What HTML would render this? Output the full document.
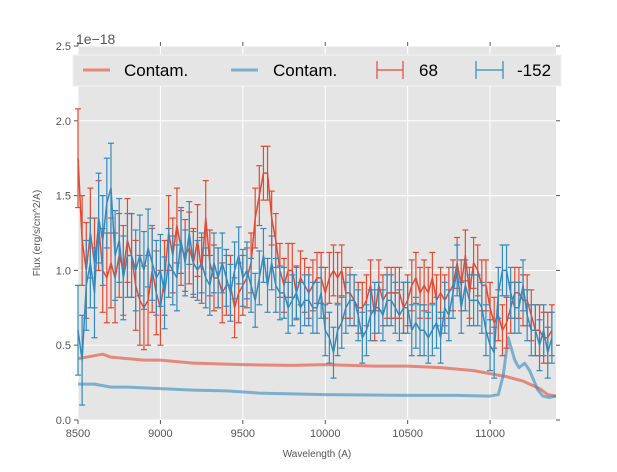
<!DOCTYPE html>
<html><head><meta charset="utf-8"><style>
body{margin:0;background:#fff;width:617px;height:467px;overflow:hidden;font-family:"Liberation Sans","DejaVu Sans",sans-serif}
</style></head><body>
<svg id="chart" width="617" height="467" xmlns="http://www.w3.org/2000/svg" font-family="Liberation Sans, DejaVu Sans, sans-serif"></svg>
<script>
const waves=[8500,8525,8550,8575,8600,8625,8650,8675,8700,8725,8750,8775,8800,8825,8850,8875,8900,8925,8950,8975,9000,9025,9050,9075,9100,9125,9150,9175,9200,9225,9250,9275,9300,9325,9350,9375,9400,9425,9450,9475,9500,9525,9550,9575,9600,9625,9650,9675,9700,9725,9750,9775,9800,9825,9850,9875,9900,9925,9950,9975,10000,10025,10050,10075,10100,10125,10150,10175,10200,10225,10250,10275,10300,10325,10350,10375,10400,10425,10450,10475,10500,10525,10550,10575,10600,10625,10650,10675,10700,10725,10750,10775,10800,10825,10850,10875,10900,10925,10950,10975,11000,11025,11050,11075,11100,11125,11150,11175,11200,11225,11250,11275,11300,11325,11350,11375];
const flux68=[1.75,1.2,1.0,1.25,1.05,1.3,1.0,0.95,1.05,0.95,1.1,1.0,1.2,1.1,0.9,0.8,0.75,0.8,1.0,0.85,0.75,0.95,1.25,1.1,1.3,1.15,1.1,1.15,1.05,1.2,1.0,1.35,1.05,0.95,0.95,0.85,0.9,0.9,0.75,0.85,0.9,0.95,1.05,1.35,1.5,1.65,1.65,1.35,1.2,1.0,0.9,1.0,1.0,0.85,0.95,0.9,0.85,0.9,0.95,0.95,0.85,0.95,1.0,0.95,1.0,0.85,0.85,0.8,0.75,0.75,0.8,0.9,0.7,0.9,0.8,0.85,0.85,0.85,0.85,0.75,0.8,0.9,0.95,0.85,0.9,0.85,0.95,0.8,0.85,0.8,0.85,0.9,1.05,0.9,1.1,0.85,1.05,1.0,0.9,0.9,0.75,0.65,0.7,0.6,0.65,0.75,0.85,0.85,0.8,0.8,0.7,0.6,0.6,0.55,0.55,0.6];
const err68=[0.33,0.3,0.32,0.3,0.3,0.3,0.28,0.3,0.3,0.3,0.28,0.3,0.28,0.28,0.3,0.3,0.28,0.3,0.28,0.28,0.25,0.25,0.25,0.25,0.25,0.25,0.24,0.24,0.23,0.24,0.22,0.25,0.22,0.22,0.2,0.2,0.2,0.2,0.2,0.2,0.2,0.2,0.2,0.2,0.2,0.18,0.18,0.18,0.18,0.18,0.18,0.18,0.18,0.18,0.18,0.18,0.17,0.17,0.17,0.17,0.17,0.17,0.17,0.17,0.17,0.17,0.17,0.17,0.17,0.17,0.17,0.17,0.17,0.17,0.17,0.17,0.17,0.17,0.17,0.17,0.17,0.17,0.17,0.17,0.17,0.17,0.17,0.17,0.17,0.17,0.17,0.17,0.17,0.17,0.17,0.17,0.17,0.17,0.17,0.17,0.17,0.17,0.17,0.17,0.17,0.17,0.17,0.17,0.17,0.17,0.17,0.17,0.17,0.17,0.17,0.17];
const flux152=[0.6,0.4,0.9,1.05,0.85,1.35,1.2,1.45,1.55,1.1,1.2,0.95,1.1,1.1,1.0,1.1,1.0,1.15,1.05,0.95,1.0,0.85,1.05,1.0,0.95,1.2,1.05,1.25,1.05,1.0,1.05,0.95,0.9,1.05,0.95,1.05,0.95,0.85,1.0,1.1,0.95,1.0,0.9,0.8,0.95,1.1,0.9,1.05,0.9,0.85,0.85,0.75,0.8,0.85,0.75,0.8,0.8,0.75,0.75,0.85,0.6,0.55,0.45,0.6,0.65,0.75,0.8,0.8,0.7,0.55,0.6,0.7,0.75,0.75,0.7,0.8,0.8,0.75,0.7,0.75,0.75,0.6,0.65,0.6,0.6,0.55,0.6,0.65,0.55,0.75,0.7,0.85,1.0,0.75,0.9,0.8,0.8,0.8,0.75,0.6,0.5,0.45,0.85,1.0,1.0,0.85,0.75,0.75,0.9,0.7,0.6,0.6,0.5,0.6,0.45,0.55];
const err152=[0.3,0.3,0.3,0.3,0.3,0.3,0.3,0.3,0.3,0.3,0.28,0.28,0.28,0.28,0.27,0.27,0.26,0.26,0.25,0.25,0.24,0.24,0.23,0.23,0.22,0.22,0.22,0.21,0.21,0.2,0.2,0.2,0.2,0.2,0.2,0.2,0.19,0.19,0.19,0.19,0.19,0.19,0.18,0.18,0.18,0.18,0.18,0.18,0.18,0.18,0.17,0.17,0.17,0.17,0.17,0.17,0.17,0.17,0.17,0.17,0.17,0.17,0.17,0.17,0.17,0.17,0.17,0.17,0.17,0.17,0.17,0.17,0.17,0.17,0.17,0.17,0.17,0.17,0.17,0.17,0.17,0.17,0.17,0.17,0.17,0.17,0.17,0.17,0.17,0.17,0.17,0.17,0.17,0.17,0.17,0.17,0.17,0.17,0.17,0.17,0.17,0.17,0.17,0.17,0.17,0.17,0.17,0.17,0.17,0.17,0.17,0.17,0.17,0.17,0.17,0.17];
const contamRedW=[8500,8600,8650,8700,8800,8900,9000,9100,9200,9500,9800,10000,10300,10500,10700,10900,11000,11100,11200,11300,11350,11400];
const contamRedV=[0.41,0.43,0.44,0.42,0.41,0.40,0.40,0.39,0.38,0.37,0.365,0.37,0.36,0.36,0.35,0.33,0.31,0.29,0.26,0.21,0.17,0.16];
const contamBlueW=[8500,8600,8700,8800,9000,9200,9400,9600,10000,10500,10800,11000,11050,11080,11110,11150,11175,11210,11240,11290,11320,11360,11400];
const contamBlueV=[0.24,0.24,0.22,0.22,0.21,0.20,0.195,0.18,0.17,0.165,0.165,0.16,0.17,0.30,0.55,0.40,0.35,0.38,0.33,0.20,0.16,0.15,0.16];
const xTicks=[8500,9000,9500,10000,10500,11000];
const yTicks=[0.0,0.5,1.0,1.5,2.0,2.5];

const L=78,R=556,T=46,B=420,XMIN=8500,XMAX=11400,YMAX=2.5;
const sx=v=>L+(v-XMIN)/(XMAX-XMIN)*(R-L);
const sy=v=>B-v/YMAX*(B-T);
const svg=document.getElementById('chart');
const NS='http://www.w3.org/2000/svg';
function mk(tag,attrs,parent){const e=document.createElementNS(NS,tag);for(const k in attrs)e.setAttribute(k,attrs[k]);(parent||svg).appendChild(e);return e;}

const bg=mk('rect',{x:L,y:T,width:R-L,height:B-T,fill:'#e5e5e5'});


const grid=mk('g',{stroke:'#fff','stroke-width':1});


xTicks.forEach(t=>{mk('line',{x1:sx(t),x2:sx(t),y1:T,y2:B},grid);mk('line',{x1:sx(t),x2:sx(t),y1:B,y2:B+4,stroke:'#555'});mk('line',{x1:sx(t),x2:sx(t),y1:T,y2:T-4,stroke:'#555'});
 const tx=mk('text',{x:sx(t),y:B+17,'text-anchor':'middle','font-size':11,fill:'#555'});tx.textContent=t;
 
 });
yTicks.forEach(t=>{mk('line',{x1:L,x2:R,y1:sy(t),y2:sy(t)},grid);mk('line',{x1:L-4,x2:L,y1:sy(t),y2:sy(t),stroke:'#555'});mk('line',{x1:R,x2:R+4,y1:sy(t),y2:sy(t),stroke:'#555'});
 const tx=mk('text',{x:L-7,y:sy(t)+4,'text-anchor':'end','font-size':11,fill:'#555'});tx.textContent=t.toFixed(1);
 
 });

function line(ws,vs,color,w,op,name){const p=mk('polyline',{points:ws.map((x,i)=>sx(x)+','+sy(vs[i])).join(' '),fill:'none',stroke:color,'stroke-width':w,'stroke-opacity':op,'stroke-linejoin':'round'});
 
 }
function ebars(vs,es,color,name){const g=mk('g',{stroke:color,'stroke-width':1.2});
 
 
 waves.forEach((x,i)=>{const X=sx(x),y1=sy(vs[i]-es[i]),y2=sy(vs[i]+es[i]);
  mk('line',{x1:X,x2:X,y1:y1,y2:y2},g);mk('line',{x1:X-3,x2:X+3,y1:y1,y2:y1},g);mk('line',{x1:X-3,x2:X+3,y1:y2,y2:y2},g);});}
line(contamRedW,contamRedV,'#E24A33',3,0.6,'contam-line-68');
line(contamBlueW,contamBlueV,'#348ABD',3,0.6,'contam-line-152');
ebars(flux68,err68,'#E24A33','errorbars-68');
line(waves,flux68,'#E24A33',1.5,1,'flux-line-68');
ebars(flux152,err152,'#348ABD','errorbars-152');
line(waves,flux152,'#348ABD',1.5,1,'flux-line-152');
</script>
<svg style="position:absolute;left:0;top:0" width="617" height="467" xmlns="http://www.w3.org/2000/svg" font-family="Liberation Sans, DejaVu Sans, sans-serif">
<text x="76" y="44" font-size="14" fill="#555">1e−18</text>
<g>
<rect x="73" y="55" width="488" height="31" fill="#e5e5e5" stroke="#f2f2f2"/>
<g><line x1="83" x2="110" y1="70" y2="70" stroke="#E24A33" stroke-opacity="0.6" stroke-width="3"/><text x="124" y="76" font-size="17" fill="#000">Contam.</text></g>
<g><line x1="231" x2="258" y1="70" y2="70" stroke="#348ABD" stroke-opacity="0.6" stroke-width="3"/><text x="273" y="76" font-size="17" fill="#000">Contam.</text></g>
<g stroke="#E24A33" stroke-width="1.2"><line x1="377" x2="403" y1="70" y2="70"/><line x1="377" x2="377" y1="61" y2="79"/><line x1="403" x2="403" y1="61" y2="79"/><text x="419" y="76" font-size="17" fill="#000" stroke="none">68</text></g>
<g stroke="#348ABD" stroke-width="1.2"><line x1="476" x2="503" y1="70" y2="70"/><line x1="476" x2="476" y1="61" y2="79"/><line x1="503" x2="503" y1="61" y2="79"/><text x="517" y="76" font-size="17" fill="#000" stroke="none">-152</text></g>
</g>
<text x="317" y="457" font-size="10" fill="#555" text-anchor="middle">Wavelength (A)</text>
<text x="0" y="0" font-size="10" fill="#555" text-anchor="middle" transform="translate(40,233) rotate(-90)">Flux (erg/s/cm^2/A)</text>
</svg>
</body></html>
